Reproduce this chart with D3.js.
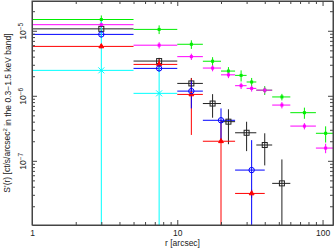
<!DOCTYPE html>
<html>
<head>
<meta charset="utf-8">
<script src="https://cdn.jsdelivr.net/npm/d3@7"></script>
<style>
  body { margin: 0; background: #fff; }
  text { font-family: "Liberation Sans", Arial, sans-serif; fill: #222; }
</style>
</head>
<body>
<svg id="chart" width="335" height="249"></svg>
<script>
// bin edges and centres, arcsec
const edgesA = [1, 5, 10, 15, 20, 25, 30, 35, 45, 60, 90, 120];
const rA = [3, 7.5, 12.5, 17.5, 22.5, 27.5, 32.5, 40, 52.5, 75, 105];
const edgesB = [1, 5, 10, 15, 20, 25, 35, 45, 60];
const rB = [3, 7.5, 12.5, 17.5, 22.5, 30, 40, 52.5];
const edgesC = [1, 5, 10, 15, 25, 40];
const rC = [3, 7.5, 12.5, 20, 32.5];
const edgesD = [1, 5, 10];
const rD = [3, 7.5];

// surface brightness (ct/s/arcsec^2) and 1-sigma errors
const greenS = [1.49e-5, 1.05e-5, 6.2e-6, 3.4e-6, 2.4e-6, 2.06e-6, 1.63e-6, 1.22e-6, 9.6e-7, 5.5e-7, 2.65e-7];
const greenErr = [2.3e-6, 1.6e-6, 9.4e-7, 5.2e-7, 3.6e-7, 4.0e-7, 2.5e-7, 1.9e-7, 1.1e-7, 1.07e-7, 7.4e-8];
const magentaS = [1.24e-5, 6.0e-6, 4.0e-6, 2.67e-6, 2.1e-6, 1.43e-6, 1.3e-6, 1.22e-6, 7.2e-7, 3.42e-7, 1.57e-7];
const magentaErr = [1.4e-6, 6.6e-7, 4.4e-7, 2.9e-7, 2.3e-7, 1.6e-7, 1.4e-7, 1.3e-7, 8e-8, 3.8e-8, 2.6e-8];
const blackS = [1.07e-5, 3.42e-6, 1.55e-6, 7.6e-7, 4.0e-7, 2.7e-7, 1.75e-7, 4.5e-8];
const blackErr = [1.2e-6, 4.1e-7, 3.3e-7, 3.0e-7, 2.2e-7, 1.29e-7, 9e-8, 6e-8];
const blueS = [8.8e-6, 2.64e-6, 1.18e-6, 4.2e-7, 7.2e-8];
const blueErr = [1.0e-6, 3.0e-7, 5.4e-7, 2.2e-7, 1.36e-7];
const redS = [5.75e-6, 3.04e-6, 1.05e-6, 2.0e-7, 3.15e-8];
const redErr = [5e-7, 6e-7, 8e-7, 2.2e-7, 4.5e-9];
const cyanS = [2.46e-6, 1.09e-6];
const cyanErr = [1.2e-5, 1.7e-6];

const series = [
  { color: "#222222", marker: "square", edges: edgesB, r: rB, s: blackS, err: blackErr },
  { color: "#ff0000", marker: "triangle", edges: edgesC, r: rC, s: redS, err: redErr },
  { color: "#0000ff", marker: "circle", edges: edgesC, r: rC, s: blueS, err: blueErr },
  { color: "#00ee00", marker: "fill", edges: edgesA, r: rA, s: greenS, err: greenErr },
  { color: "#ff00ff", marker: "fill", edges: edgesA, r: rA, s: magentaS, err: magentaErr },
  { color: "#00ffff", marker: "cross", edges: edgesD, r: rD, s: cyanS, err: cyanErr }
];

const svg = d3.select("#chart");
const pLeft = 32, pRight = 333, pTop = 1, pBottom = 225;

const x = d3.scaleLog().domain([1, 118]).range([pLeft, pRight]);
const y = d3.scaleLog().domain([1.03e-8, 2.87e-5]).range([pBottom, pTop]);

// all 1..9 x 10^n ticks inside a domain
function logTicks(lo, hi) {
  const t = [];
  for (let e = Math.floor(Math.log10(lo)); e <= Math.ceil(Math.log10(hi)); e++) {
    for (let m = 1; m < 10; m++) {
      const v = m * Math.pow(10, e);
      if (v >= lo * 0.999 && v <= hi * 1.001) t.push(v);
    }
  }
  return t;
}
const isMajor = (v) => Math.abs(Math.log10(v) - Math.round(Math.log10(v))) < 1e-6;

const xTicks = logTicks(1, 118);
const yTicks = logTicks(1.03e-8, 2.87e-5);

// clip for data
svg.append("clipPath").attr("id", "clip")
  .append("rect").attr("x", pLeft).attr("y", pTop)
  .attr("width", pRight - pLeft).attr("height", pBottom - pTop);

const plot = svg.append("g").attr("clip-path", "url(#clip)");

series.forEach((sr) => {
  const g = plot.append("g").attr("stroke", sr.color).attr("fill", "none").attr("stroke-width", 1);
  sr.s.forEach((v, i) => {
    const yv = y(v);
    // horizontal bin width
    g.append("line")
      .attr("x1", x(sr.edges[i])).attr("x2", x(sr.edges[i + 1]))
      .attr("y1", yv).attr("y2", yv);
    // vertical error
    const lo = v - sr.err[i];
    g.append("line")
      .attr("x1", x(sr.r[i])).attr("x2", x(sr.r[i]))
      .attr("y1", y(v + sr.err[i]))
      .attr("y2", lo > 0 ? Math.min(y(lo), pBottom + 2) : pBottom + 2);
  });
});

// markers on top
series.forEach((sr) => {
  const g = plot.append("g").attr("stroke", sr.color);
  sr.s.forEach((v, i) => {
    const cx = x(sr.r[i]), cy = y(v);
    if (sr.marker === "square") {
      g.append("rect").attr("x", cx - 2.5).attr("y", cy - 2.5)
        .attr("width", 5).attr("height", 5).attr("fill", "none");
    } else if (sr.marker === "circle") {
      g.append("circle").attr("cx", cx).attr("cy", cy).attr("r", 2.7).attr("fill", "none");
    } else if (sr.marker === "triangle") {
      g.append("path").attr("fill", sr.color)
        .attr("d", d3.symbol(d3.symbolTriangle, 10)())
        .attr("transform", `translate(${cx},${cy})`);
    } else if (sr.marker === "fill") {
      g.append("rect").attr("x", cx - 1.5).attr("y", cy - 1.5)
        .attr("width", 3).attr("height", 3).attr("fill", sr.color).attr("stroke", "none");
    } else if (sr.marker === "cross") {
      g.append("path").attr("fill", "none")
        .attr("d", "M-3,-3L3,3M-3,3L3,-3")
        .attr("transform", `translate(${cx},${cy})`);
    }
  });
});

// axes, ticks pointing inward on all four sides
function styleTicks(sel, major, minor) {
  sel.select(".domain").attr("stroke", "#444");
  sel.selectAll(".tick line").attr("stroke", "#444").each(function (d) {
    const line = d3.select(this);
    const len = isMajor(d) ? major : minor;
    if (line.attr("x2") !== null && +line.attr("x2") !== 0) line.attr("x2", len * Math.sign(+line.attr("x2")));
    if (line.attr("y2") !== null && +line.attr("y2") !== 0) line.attr("y2", len * Math.sign(+line.attr("y2")));
  });
}

const xBottom = svg.append("g").attr("transform", `translate(0,${pBottom})`)
  .call(d3.axisBottom(x).tickValues(xTicks).tickSize(-5).tickSizeOuter(0).tickPadding(5)
    .tickFormat((d) => (isMajor(d) ? d3.format("d")(d) : "")));
styleTicks(xBottom, 5, 3);
xBottom.selectAll(".tick text").attr("font-size", "8.5px").attr("fill", "#222");

const xTop = svg.append("g").attr("transform", `translate(0,${pTop})`)
  .call(d3.axisTop(x).tickValues(xTicks).tickSize(-5).tickSizeOuter(0).tickFormat(""));
styleTicks(xTop, 5, 3);

const yLeft = svg.append("g").attr("transform", `translate(${pLeft},0)`)
  .call(d3.axisLeft(y).tickValues(yTicks).tickSize(-5).tickSizeOuter(0).tickFormat(""));
styleTicks(yLeft, 5, 3);

const yRight = svg.append("g").attr("transform", `translate(${pRight},0)`)
  .call(d3.axisRight(y).tickValues(yTicks).tickSize(-5).tickSizeOuter(0).tickFormat(""));
styleTicks(yRight, 5, 3);

// rotated y tick labels 10^n
yLeft.selectAll(".tick").filter((d) => isMajor(d)).each(function (d) {
  const t = d3.select(this).select("text")
    .attr("transform", "rotate(-90)")
    .attr("x", 0).attr("y", -6.5).attr("dy", null)
    .attr("text-anchor", "middle").attr("font-size", "8.5px").attr("fill", "#222");
  t.append("tspan").text("10");
  t.append("tspan").attr("dy", "-0.45em").attr("font-size", "6.5px")
    .text("\u2212" + Math.abs(Math.round(Math.log10(d))));
});

// axis titles
svg.append("text")
  .attr("x", (pLeft + pRight) / 2).attr("y", 245.5)
  .attr("text-anchor", "middle").attr("font-size", "8.5px")
  .text("r [arcsec]");

const yTitle = svg.append("text")
  .attr("transform", `translate(9.5,${(pTop + pBottom) / 2}) rotate(-90)`)
  .attr("text-anchor", "middle").attr("font-size", "8.5px");
yTitle.append("tspan").text("S'(r) [ct/s/arcsec");
yTitle.append("tspan").attr("dy", "-0.4em").attr("font-size", "6px").text("2");
yTitle.append("tspan").attr("dy", "0.4em").text(" in the 0.3\u22121.5 keV band]");

// frame
svg.append("rect").attr("x", pLeft).attr("y", pTop)
  .attr("width", pRight - pLeft).attr("height", pBottom - pTop)
  .attr("fill", "none").attr("stroke", "#444");
</script>
</body>
</html>
